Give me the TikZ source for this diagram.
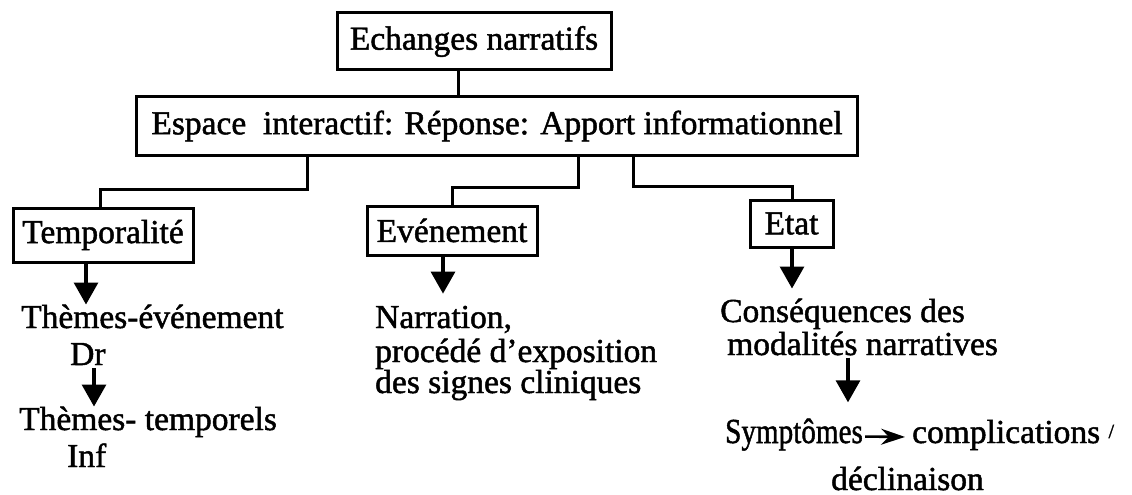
\documentclass[tikz,border=0pt]{standalone}
\usepackage{fontspec}
\setmainfont{Liberation Serif}[FakeBold=1.4]
\usetikzlibrary{arrows.meta,calc}
\begin{document}
\begin{tikzpicture}[x=1pt,y=-1pt,
  txt/.style={font=\fontsize{33.5}{40}\selectfont},
  box/.style={txt,draw,line width=3pt,inner sep=0pt},
  lbl/.style={txt,inner sep=0pt,anchor=base west},
  link/.style={line width=3pt},
  down/.style={line width=3.2pt,-{Triangle[length=22pt,width=24pt]}},
  side/.style={line width=2.6pt,-{Stealth[length=24pt,width=16pt,inset=8pt]}}
]
\useasboundingbox (0,0) rectangle (1132,495);

% boxes
\node[box,minimum width=274pt,minimum height=57pt] (top) at (474,41.5) {Echanges narratifs};
\node[box,minimum width=721pt,minimum height=59pt] (mid) at (497,126) {Espace\ \ interactif: Réponse: Apport informationnel};
\node[box,minimum width=180pt,minimum height=54pt] (tmp) at (103,235) {Temporalité};
\node[box,minimum width=170pt,minimum height=49pt] (evt) at (452,230.5) {Evénement};
\node[box,minimum width=83pt,minimum height=47pt] (etat) at (791.5,223.5) {Etat};

% free text
\node[lbl] (thev)  at (21,328)  {Thèmes-événement};
\node[lbl] (dr)    at (70,365)  {Dr};
\node[lbl] (thtp)  at (19,430)  {Thèmes- temporels};
\node[lbl] (inf)   at (67,467)  {Inf};
\node[lbl] (narr1) at (375,328) {Narration,};
\node[lbl] (narr2) at (375,362) {procédé d’exposition};
\node[lbl] (narr3) at (375,393) {des signes cliniques};
\node[lbl] (cons1) at (720,322) {Conséquences des};
\node[lbl] (cons2) at (727,355) {modalités narratives};
\node[lbl] (symp)  at (725,443) {\scalebox{0.87}[1.05]{Symptômes}};
\node[lbl] (compl) at (912,443) {complications\ {\fontsize{20}{20}\selectfont\raisebox{5pt}{/}}};
\node[lbl] (decl)  at (831,490) {déclinaison};

% vertical guides for the connectors
\coordinate (v0) at (458,0);
\coordinate (v1) at (307,189);
\coordinate (v2) at (578,187);
\coordinate (v3) at (633,186);
\coordinate (vt) at (100,0);
\coordinate (ve) at (452,0);
\coordinate (vs) at (792,0);
\coordinate (a1) at (86,0);
\coordinate (a2) at (443,0);
\coordinate (a3) at (792,0);
\coordinate (a4) at (94,0);
\coordinate (a5) at (848,0);

% tree links
\draw[link] (top.south -| v0) -- (mid.north -| v0);
\draw[link] (mid.south -| v1) -- (v1) -| (tmp.north -| vt);
\draw[link] (mid.south -| v2) -- (v2) -| (evt.north -| ve);
\draw[link] (mid.south -| v3) -- (v3) -| (etat.north -| vs);

% downward arrows
\draw[down] (tmp.south -| a1) -- (thev.north -| a1);
\draw[down,shorten >=12pt] (evt.south -| a2) -- (narr1.north -| a2);
\draw[down,shorten >=10pt] (etat.south -| a3) -- (cons1.north -| a3);
\draw[down,shorten <=3pt] (dr.south -| a4) -- (thtp.north -| a4);
\draw[down,shorten <=2pt,shorten >=16pt] (cons2.south -| a5) -- (symp.north -| a5);

% sideways arrow
\draw[side] ([xshift=2pt,yshift=-2pt]symp.east) -- ([xshift=-7pt,yshift=-2pt]compl.west);
\end{tikzpicture}
\end{document}
